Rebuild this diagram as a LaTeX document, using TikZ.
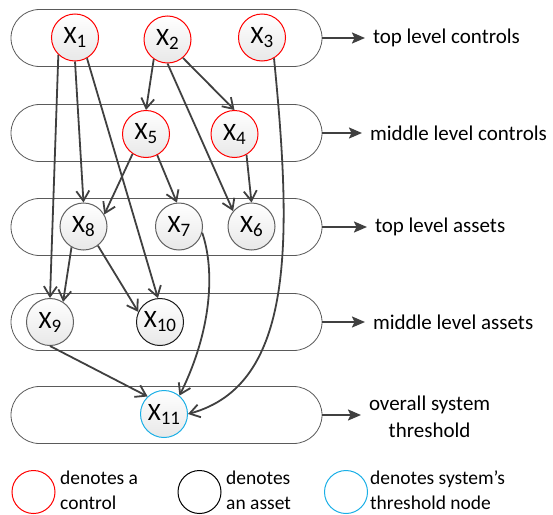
\documentclass[tikz,border=0pt]{standalone}
\usepackage{fontspec}
\setmainfont{Carlito}
\usetikzlibrary{arrows.meta,shapes.misc}
\definecolor{thr}{HTML}{1AAFE6}
\definecolor{edgec}{HTML}{404040}
\definecolor{lanec}{HTML}{5A5A5A}
\newcommand{\xn}[1]{X\raisebox{-4pt}{\fontsize{19}{19}\selectfont #1}}
\begin{document}
\begin{tikzpicture}[x=1pt,y=-1pt,
  lane/.style={draw=lanec, line width=0.8pt, rounded rectangle, minimum width=311pt, minimum height=57pt, inner sep=0pt},
  nd/.style={circle, minimum size=47pt, inner sep=0pt, top color=white, bottom color=black!9, line width=1pt, font=\fontsize{25}{25}\selectfont},
  ctrl/.style={nd, draw=red},
  asset/.style={nd, draw=black!62},
  assetdark/.style={nd, draw=black!90},
  thrnode/.style={nd, draw=thr},
  edge/.style={draw=edgec, line width=1.8pt, -{Straight Barb[length=10pt,width=13pt]}},
  side/.style={draw=edgec, line width=2pt, -{Stealth[length=13pt,width=11pt,inset=2.5pt]}},
  lbl/.style={font=\fontsize{21}{27}\selectfont, inner sep=0pt, outer xsep=8pt, anchor=west},
  legc/.style={circle, minimum size=43pt, inner sep=0pt, line width=1pt},
  legt/.style={font=\fontsize{19.5}{25}\selectfont, inner sep=0pt, anchor=west, align=left}
]
\useasboundingbox (0,0) rectangle (553,514);

% lanes
\node[lane] (L1) at (166.5,38) {};
\node[lane] (L2) at (166.5,133) {};
\node[lane] (L3) at (166.5,227) {};
\node[lane] (L4) at (166.5,322) {};
\node[lane] (L5) at (166.5,415) {};

% lane labels
\node[lbl] (T1) at (365,38) {top level controls};
\node[lbl] (T2) at (362,133) {middle level controls};
\node[lbl] (T3) at (367,227) {top level assets};
\node[lbl] (T4) at (365,322) {middle level assets};
\node[lbl, align=center] (T5) at (361,416.5) {overall system\\threshold};

\draw[side] (L1.east) -- (T1.west);
\draw[side] (L2.east) -- (T2.west);
\draw[side] (L3.east) -- (T3.west);
\draw[side] (L4.east) -- (T4.west);
\draw[side] (L5.east) -- (T5.west |- L5.east);

% nodes
\node[ctrl] (X1) at (75,37.5) {\xn{1}};
\node[ctrl] (X2) at (167.5,39.5) {\xn{2}};
\node[ctrl] (X3) at (262,37.5) {\xn{3}};
\node[ctrl] (X5) at (146,134) {\xn{5}};
\node[ctrl] (X4) at (234.5,134) {\xn{4}};
\node[asset] (X8) at (83.5,226.5) {\xn{8}};
\node[asset] (X7) at (179,226.5) {\xn{7}};
\node[asset] (X6) at (251.5,226.5) {\xn{6}};
\node[asset] (X9) at (50,322) {\xn{9}};
\node[assetdark] (X10) at (160,322) {\xn{10}};
\node[thrnode] (X11) at (164,414) {\xn{11}};

% edges
\draw[edge] (X1.226) -- (X9.north);
\draw[edge] (X1.south) -- (X8.north);
\draw[edge] (X1.-60) -- (X10.95);
\draw[edge] (X2.235) -- (X5.north);
\draw[edge] (X2.-50) -- (X4.north);
\draw[edge] (X2.south) -- (X6.140);
\draw[edge] (X5.236) -- (X8.30);
\draw[edge] (X5.-62) -- (X7.95);
\draw[edge] (X4.-60) -- (X6.north);
\draw[edge] (X8.240) -- (X9.57);
\draw[edge] (X8.-53) -- (X10.155);
\draw[edge] (X9.south) -- (X11.133);
\draw[edge] (X7.-15) .. controls (215,270) and (212,330) .. (X11.50);
\draw[edge] (X3.-60) .. controls (292,240) and (295,385) .. (X11.east);

% legend
\node[legc, draw=red] (LC1) at (33.5,492) {};
\node[legc, draw=black] (LC2) at (199.5,492) {};
\node[legc, draw=thr] (LC3) at (346,492) {};
\node[legt] (D1) at (60,490.5) {denotes a\\control};
\node[legt] (D2) at (226,490.5) {denotes\\an asset};
\node[legt] (D3) at (370,490.5) {denotes system's\\threshold node};
\end{tikzpicture}
\end{document}
